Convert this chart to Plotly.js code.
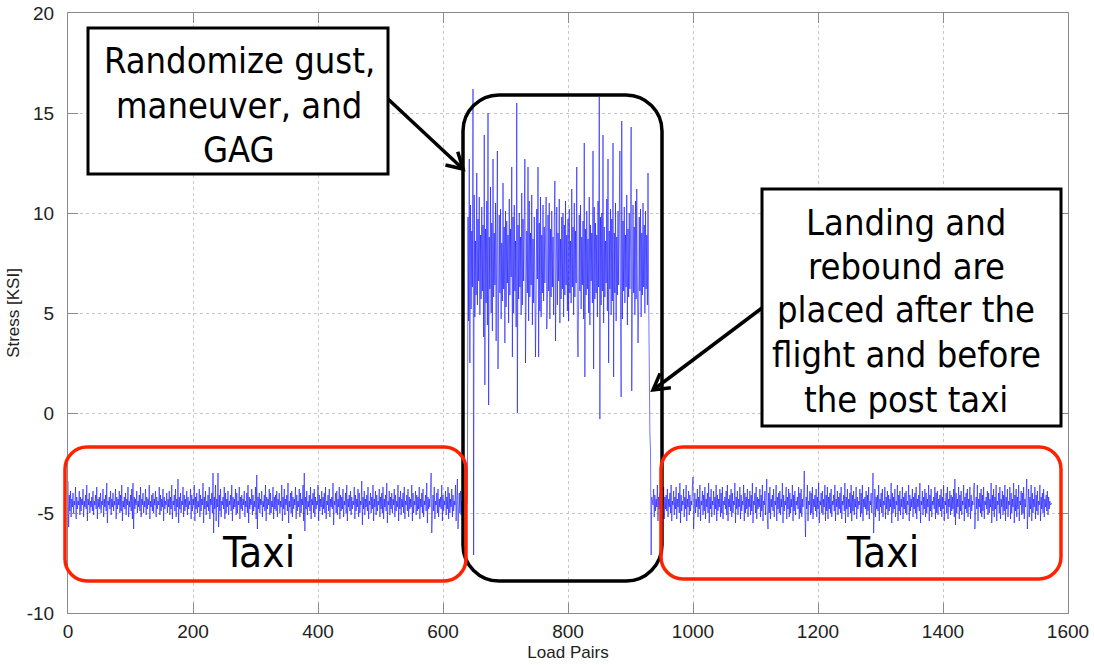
<!DOCTYPE html>
<html>
<head>
<meta charset="utf-8">
<script src="https://cdn.plot.ly/plotly-3.0.1.min.js"></script>
<style>html,body{margin:0;padding:0;background:#fff;}#chart{width:1094px;height:665px;}</style>
</head>
<body>
<div id="chart"></div>
<script>
// ---- Data (stress in KSI, one value per load pair) ----
const preTaxi = [
-3.4,-5.7,-4.1,-4.9,-3.9,-5.2,-4.3,-4.7,-4.0,-5.0,-4.4,-4.6,-3.7,-5.3,-4.2,-4.8,-4.4,-4.6,-3.9,-5.1,
-4.2,-4.9,-4.3,-4.6,-3.8,-5.2,-4.4,-4.7,-4.1,-4.8,-3.6,-5.4,-4.3,-4.6,-4.0,-5.0,-4.4,-4.7,-4.2,-4.9,
-3.9,-5.1,-4.4,-4.6,-4.1,-4.8,-3.7,-5.3,-4.3,-4.7,-4.2,-4.8,-4.0,-5.0,-4.4,-4.6,-3.8,-5.2,-4.3,-4.7,
-4.1,-4.9,-3.5,-5.5,-4.4,-4.6,-4.2,-4.8,-3.9,-5.1,-4.3,-4.7,-4.0,-4.9,-4.4,-4.6,-3.8,-5.3,-4.2,-4.8,
-4.3,-4.6,-3.9,-5.0,-4.1,-4.9,-3.6,-5.4,-4.4,-4.7,-4.2,-4.8,-4.0,-5.1,-4.3,-4.6,-3.7,-5.2,-4.4,-4.7,
-4.1,-4.9,-3.8,-5.3,-3.5,-5.8,-4.2,-4.8,-4.3,-4.6,-3.9,-5.0,-4.4,-4.7,-4.1,-4.9,-3.7,-5.2,-4.3,-4.6,
-4.0,-5.0,-4.4,-4.7,-3.8,-5.1,-4.2,-4.8,-4.3,-4.6,-3.6,-5.3,-4.4,-4.7,-4.1,-4.9,-4.0,-5.0,-4.3,-4.6,
-3.9,-5.2,-4.2,-4.8,-4.4,-4.6,-3.7,-5.1,-4.1,-4.9,-4.3,-4.7,-3.8,-5.4,-4.2,-4.8,-4.4,-4.6,-4.0,-5.0,
-4.3,-4.7,-3.9,-5.1,-4.2,-4.8,-3.6,-5.3,-4.4,-4.6,-4.1,-4.9,-3.8,-5.2,-4.3,-4.7,-3.3,-5.5,-4.2,-4.8,
-4.0,-5.0,-4.4,-4.6,-3.7,-5.2,-4.1,-4.9,-4.3,-4.7,-3.9,-5.1,-4.2,-4.8,-4.4,-4.6,-3.8,-5.3,-4.1,-4.9,
-4.3,-4.6,-3.6,-5.4,-4.2,-4.8,-4.0,-5.0,-4.4,-4.7,-3.8,-5.2,-4.1,-4.9,-4.3,-4.6,-3.5,-5.5,-4.2,-4.8,
-3.9,-5.1,-4.4,-4.7,-4.1,-4.9,-3.7,-5.3,-4.3,-4.6,-4.0,-5.0,-3.0,-6.0,-4.2,-4.8,-3.6,-5.4,-4.3,-4.7,
-3.0,-5.7,-4.1,-4.9,-3.8,-5.2,-4.4,-4.6,-4.2,-4.8,-3.7,-5.3,-4.0,-5.0,-4.3,-4.7,-3.9,-5.1,-4.4,-4.6,
-4.1,-4.9,-3.6,-5.4,-4.2,-4.8,-4.3,-4.7,-3.8,-5.1,-4.0,-5.0,-4.4,-4.6,-3.7,-5.3,-4.2,-4.8,-4.1,-4.9,
-4.3,-4.6,-3.9,-5.2,-4.4,-4.7,-4.0,-5.0,-3.6,-5.5,-4.2,-4.8,-4.3,-4.6,-3.8,-5.1,-4.1,-4.9,-4.4,-4.7,
-3.7,-5.3,-3.1,-5.8,-4.2,-4.8,-4.0,-5.0,-4.3,-4.6,-3.9,-5.2,-4.4,-4.7,-4.1,-4.9,-3.6,-5.4,-4.2,-4.8,
-4.3,-4.6,-3.8,-5.1,-4.0,-5.0,-4.4,-4.7,-3.7,-5.3,-4.2,-4.8,-4.1,-4.9,-3.9,-5.2,-4.3,-4.6,-4.0,-5.0,
-4.4,-4.7,-3.6,-5.4,-4.2,-4.8,-3.8,-5.1,-4.3,-4.6,-4.1,-4.9,-3.5,-5.5,-4.4,-4.7,-4.0,-5.0,-3.9,-5.2,
-4.2,-4.8,-4.3,-4.6,-3.7,-5.3,-4.1,-4.9,-4.4,-4.7,-3.8,-5.2,-4.0,-5.0,-4.3,-4.6,-3.6,-5.4,-3.0,-5.9,
-4.2,-4.8,-3.9,-5.1,-4.4,-4.7,-4.1,-4.9,-3.7,-5.3,-4.3,-4.6,-4.0,-5.0,-3.8,-5.2,-4.2,-4.8,-4.4,-4.6,
-3.6,-5.4,-4.1,-4.9,-4.3,-4.7,-3.9,-5.1,-4.2,-4.8,-4.0,-5.0,-3.7,-5.3,-4.4,-4.6,-4.1,-4.9,-3.8,-5.2,
-4.3,-4.7,-4.2,-4.8,-3.5,-5.6,-4.4,-4.6,-4.0,-5.0,-3.9,-5.1,-4.3,-4.7,-3.7,-5.3,-4.1,-4.9,-4.2,-4.8,
-3.8,-5.2,-4.4,-4.6,-4.0,-5.0,-3.6,-5.4,-4.3,-4.7,-4.1,-4.9,-3.9,-5.1,-4.2,-4.8,-4.4,-4.6,-3.7,-5.3,
-4.1,-4.9,-4.3,-4.7,-3.8,-5.2,-4.0,-5.0,-4.4,-4.6,-3.4,-5.6,-4.2,-4.8,-3.9,-5.1,-4.3,-4.7,-4.1,-4.9,
-3.7,-5.3,-4.4,-4.6,-4.0,-5.0,-4.2,-4.8,-3.6,-5.4,-4.3,-4.7,-3.9,-5.1,-4.1,-4.9,-4.4,-4.6,-3.8,-5.2,
-4.2,-4.8,-4.0,-5.0,-3.7,-5.3,-4.3,-4.7,-4.1,-4.9,-3.5,-5.5,-4.4,-4.6,-3.9,-5.1,-4.2,-4.8,-4.0,-5.0,
-4.3,-4.6,-3.8,-5.2,-4.1,-4.9,-4.4,-4.7,-3.6,-5.4,-4.2,-4.8,-3.9,-5.1,-4.3,-4.7,-4.0,-5.0,-3.7,-5.3,
-4.4,-4.6,-4.1,-4.9,-3.8,-5.2,-4.2,-4.8,-4.3,-4.7,-3.6,-5.4,-4.0,-5.0,-4.4,-4.6,-3.9,-5.1,-4.1,-4.9,
-4.2,-4.8,-3.7,-5.3,-4.3,-4.7,-4.0,-5.0,-3.8,-5.2,-4.4,-4.6,-4.1,-4.9,-3.5,-5.5,-4.2,-4.8,-4.3,-4.7,
-3.9,-3.0,-6.0,-4.8,-4.1,-4.9,-3.7,-5.3,-4.4,-4.6,-4.0,-5.0,-3.8,-5.2,-4.3,-4.7,-4.2,-4.8,-3.6,-5.4,
-4.1,-4.9,-4.4,-4.6,-3.9,-5.1,-4.2,-4.8,-3.7,-5.3,-4.0,-5.0,-4.3,-4.7,-3.8,-5.2,-4.1,-4.9,-4.4,-4.6,
-3.6,-5.4,-4.2,-3.3,-5.8,-4.8,-4.0,-5.0,-3.9,-5.1,-4.4,-4.6,-4.3,-4.7,-4.5,-4.5,-4.4,-4.6,-4.5,-4.5
];
const flight = [
9.8,4.6,12.7,2.5,10.4,5.2,9.1,6.3,16.2,-7.1,10.9,4.8,8.6,5.9,12.0,5.4,9.7,6.6,10.8,4.9,
8.9,5.7,10.3,6.1,9.4,3.8,13.9,1.4,9.2,5.5,10.6,4.4,15.0,0.4,8.8,6.2,11.3,5.0,9.5,4.1,
12.7,5.8,9.0,6.4,10.5,3.6,8.7,13.1,2.2,5.1,9.9,6.0,10.2,4.7,8.5,5.6,11.5,6.2,9.3,3.5,
10.1,5.3,9.6,6.5,8.9,4.5,10.7,5.9,9.2,6.8,12.3,2.8,9.8,5.0,10.4,6.1,8.6,4.3,15.5,0.0,
9.4,5.7,10.0,6.3,8.8,4.9,11.0,5.4,9.7,6.6,10.3,12.7,2.5,5.2,9.1,6.0,12.3,4.6,10.6,5.8,
9.0,6.4,10.9,4.4,8.7,5.5,9.8,6.2,2.8,5.9,10.2,6.7,12.3,2.8,9.5,5.1,10.8,4.8,8.9,6.0,
10.4,5.6,9.3,6.5,8.6,10.8,4.2,5.3,9.9,6.1,10.5,4.7,9.2,5.8,10.1,6.3,8.8,4.9,9.6,11.6,
3.6,6.0,10.3,5.4,9.0,6.6,10.7,4.5,8.7,5.7,9.8,6.2,10.0,4.8,9.4,5.9,10.6,6.4,8.9,5.1,
9.7,4.6,10.2,6.0,8.6,5.5,11.2,6.3,9.3,4.9,10.5,5.8,9.1,6.5,12.3,4.2,2.8,5.6,9.9,6.1,
10.4,5.2,8.8,6.4,9.6,4.7,13.5,1.8,9.2,5.9,10.1,6.2,8.7,5.0,10.8,4.4,9.4,6.6,9.0,5.5,
13.1,2.2,10.3,5.7,9.5,6.0,8.9,4.8,10.6,6.3,15.8,-0.3,9.8,5.4,10.0,6.1,13.9,4.5,9.3,5.8,
8.6,6.5,10.7,5.1,12.7,2.5,9.1,6.2,10.2,4.9,9.7,5.6,13.5,1.8,9.0,6.0,10.5,4.6,8.8,5.9,
10.1,6.4,9.4,13.1,5.3,0.8,14.6,4.7,9.6,6.1,10.3,5.5,8.9,6.3,10.9,4.4,9.2,5.8,10.0,6.2,
8.7,14.3,1.1,5.6,10.4,6.0,9.3,4.9,10.6,5.7,11.2,6.4,3.5,5.2,9.8,6.1,10.2,4.8,9.0,5.9,
10.5,6.3,9.4,5.0,10.1,6.2,8.9,5.4,12.0,6.0
];
const landing = [1.2,-1.0,-1.9,-7.1,-4.2];
const postTaxi = [
-4.4,-4.6,-3.8,-5.2,-4.1,-4.9,-4.3,-4.7,-3.6,-5.4,-4.2,-4.8,-4.0,-5.0,-3.9,-5.1,-4.4,-4.6,-3.7,-5.3,
-4.2,-4.8,-4.1,-4.9,-3.8,-5.2,-4.3,-4.7,-4.0,-5.0,-3.6,-5.4,-4.4,-4.6,-3.9,-5.1,-4.2,-4.8,-3.7,-5.3,
-4.3,-4.7,-4.0,-5.0,-3.5,-5.5,-4.1,-4.9,-4.4,-4.6,-3.8,-5.2,-4.2,-4.8,-3.6,-5.4,-4.3,-4.7,-3.9,-5.1,
-4.1,-4.9,-4.4,-4.6,-3.7,-3.2,-5.8,-4.8,-4.0,-5.0,-4.3,-4.7,-3.8,-5.2,-4.2,-4.8,-3.6,-5.4,-4.4,-4.6,
-3.9,-5.1,-4.1,-4.9,-3.7,-5.3,-4.3,-4.7,-4.0,-5.0,-3.5,-5.5,-4.2,-4.8,-3.8,-5.2,-4.4,-4.6,-3.9,-5.1,
-4.2,-4.8,-3.6,-5.4,-4.1,-4.9,-4.3,-4.7,-3.8,-5.2,-4.0,-5.0,-3.7,-5.3,-4.4,-4.6,-4.2,-4.8,-3.9,-5.1,
-3.6,-5.4,-4.3,-4.7,-4.1,-4.9,-3.8,-5.2,-4.0,-5.0,-4.4,-4.6,-3.5,-5.5,-4.2,-4.8,-3.9,-5.1,-4.3,-4.7,
-3.7,-5.3,-4.1,-4.9,-4.4,-4.6,-3.6,-5.4,-4.0,-5.0,-4.2,-4.8,-3.8,-5.2,-4.3,-4.7,-3.9,-5.1,-4.1,-4.9,
-3.5,-5.5,-4.4,-4.6,-4.0,-5.0,-3.7,-5.3,-4.2,-4.8,-4.3,-4.7,-3.8,-5.2,-4.1,-4.9,-3.6,-5.4,-4.4,-4.6,
-3.9,-5.1,-4.2,-3.3,-5.3,-5.8,-4.0,-5.0,-3.7,-5.3,-4.3,-4.7,-4.1,-4.9,-3.8,-5.2,-4.4,-4.6,-3.6,-5.4,
-4.2,-4.8,-4.0,-5.0,-3.9,-5.1,-4.3,-4.7,-3.5,-5.5,-4.1,-4.9,-4.4,-4.6,-3.7,-5.3,-4.2,-4.8,-3.8,-5.2,
-4.0,-5.0,-4.3,-4.7,-3.6,-5.4,-4.1,-4.9,-3.9,-5.1,-4.4,-4.6,-4.2,-4.8,-3.7,-5.3,-4.0,-5.0,-3.8,-5.2,
-4.3,-4.7,-4.1,-2.9,-4.9,-6.2,-4.2,-4.8,-3.6,-5.4,-4.4,-4.6,-3.9,-5.1,-4.0,-5.0,-3.7,-5.3,-4.3,-4.7,
-4.1,-4.9,-3.8,-5.2,-4.2,-4.8,-3.5,-5.5,-4.4,-4.6,-4.0,-5.0,-3.9,-5.1,-4.3,-4.7,-3.6,-5.4,-4.1,-4.9,
-3.7,-5.3,-4.2,-4.8,-4.0,-5.0,-3.8,-5.2,-4.4,-4.6,-4.1,-4.9,-3.6,-5.4,-4.3,-4.7,-3.9,-5.1,-4.2,-4.8,
-4.0,-5.0,-3.7,-5.3,-4.4,-4.6,-4.1,-4.9,-3.5,-5.5,-4.2,-4.8,-3.8,-5.2,-4.3,-4.7,-4.0,-5.0,-3.6,-5.4,
-4.1,-4.9,-3.9,-5.1,-4.3,-4.7,-3.7,-5.3,-4.2,-4.8,-4.4,-4.6,-3.8,-5.2,-4.0,-5.0,-3.6,-5.4,-4.3,-4.7,
-4.2,-4.8,-3.9,-5.1,-4.1,-4.9,-3.7,-5.3,-4.4,-4.6,-4.0,-5.0,-4.3,-3.0,-6.0,-4.8,-3.8,-5.2,-4.2,-4.8,
-4.1,-4.9,-3.6,-5.4,-4.3,-4.7,-4.0,-5.0,-3.8,-5.2,-4.4,-4.6,-3.7,-5.3,-4.2,-4.8,-3.9,-5.1,-4.1,-4.9,
-4.3,-4.7,-3.5,-5.5,-4.0,-5.0,-4.2,-4.8,-3.8,-5.2,-4.4,-4.6,-3.6,-5.4,-4.1,-4.9,-3.9,-5.1,-4.3,-4.7,
-3.7,-5.3,-4.2,-4.8,-4.0,-5.0,-3.9,-5.1,-4.4,-4.6,-3.6,-5.4,-4.1,-4.9,-4.3,-4.7,-3.8,-5.2,-4.2,-4.8,
-4.0,-5.0,-3.7,-5.3,-4.3,-4.7,-4.1,-4.9,-3.5,-5.5,-4.4,-4.6,-3.9,-5.1,-4.2,-4.8,-3.8,-5.2,-4.0,-5.0,
-4.3,-4.7,-3.6,-5.4,-4.1,-4.9,-3.8,-5.2,-4.4,-4.6,-4.2,-4.8,-3.7,-5.3,-4.0,-5.0,-3.9,-5.1,-4.3,-4.7,
-4.1,-4.9,-3.8,-5.2,-4.2,-4.8,-3.6,-5.4,-4.4,-4.6,-4.0,-5.0,-3.7,-5.3,-4.3,-4.7,-3.9,-5.1,-4.1,-4.9,
-4.2,-4.8,-3.8,-5.2,-3.3,-5.6,-4.0,-5.0,-4.3,-4.7,-3.7,-5.3,-4.1,-4.9,-3.9,-5.1,-4.4,-4.6,-3.6,-5.4,
-4.2,-4.8,-4.0,-5.0,-3.8,-5.2,-4.3,-4.7,-3.7,-5.3,-4.1,-4.9,-4.4,-4.6,-3.9,-3.5,-5.8,-5.0,-4.2,-4.8,
-3.6,-5.4,-4.3,-4.7,-4.0,-5.0,-3.8,-5.2,-4.1,-4.9,-3.7,-5.3,-4.4,-4.6,-4.2,-4.8,-3.9,-5.1,-4.0,-5.0,
-4.3,-4.7,-3.5,-5.5,-4.1,-4.9,-3.8,-5.2,-4.2,-4.8,-3.6,-5.4,-4.4,-4.6,-4.0,-5.0,-3.7,-5.3,-4.3,-4.7,
-3.9,-5.1,-4.1,-4.9,-3.6,-5.4,-4.2,-4.8,-3.8,-5.2,-4.4,-4.6,-3.7,-5.3,-4.0,-5.0,-4.3,-4.7,-3.5,-5.5,
-4.1,-4.9,-3.8,-5.2,-4.2,-4.8,-3.6,-5.4,-4.4,-4.6,-3.9,-5.1,-4.0,-5.0,-3.7,-5.3,-4.3,-4.7,-4.1,-3.3,
-5.8,-4.8,-3.8,-5.2,-4.2,-4.8,-3.6,-5.4,-4.0,-5.0,-4.3,-4.7,-3.7,-5.3,-4.1,-4.9,-3.9,-5.1,-4.4,-4.6,
-3.6,-5.4,-4.2,-4.8,-4.0,-5.0,-3.8,-5.2,-4.3,-4.7,-4.1,-4.9,-3.9,-5.1,-4.2,-4.8,-4.4,-4.6,-4.5,-4.5
];
const xTicks = [0,200,400,600,800,1000,1200,1400,1600];
const yTicks = [-10,-5,0,5,10,15,20];
const boxText1 = ["Randomize gust,", "maneuver, and", "GAG"];
const boxText2 = ["Landing and", "rebound are", "placed after the", "flight and before", "the post taxi"];
const taxiLabel = "Taxi";

const stress = preTaxi.concat(flight, landing, postTaxi);

// ---- layout helpers (pixel -> paper) ----
const W = 1094, H = 665, M = {l:68, r:26, t:13, b:52};
const PW = W - M.l - M.r, PH = H - M.t - M.b;
const px = v => (v - M.l) / PW;
const py = v => (H - M.b - v) / PH;

function roundRect(x0, y0, x1, y1, r) {
  const rx = r / PW, ry = r / PH;
  const X0 = px(x0), X1 = px(x1), Y0 = py(y1), Y1 = py(y0);
  const k = 0.45;
  return `M ${X0+rx},${Y1} L ${X1-rx},${Y1} C ${X1-rx*k},${Y1} ${X1},${Y1-ry*k} ${X1},${Y1-ry} ` +
         `L ${X1},${Y0+ry} C ${X1},${Y0+ry*k} ${X1-rx*k},${Y0} ${X1-rx},${Y0} ` +
         `L ${X0+rx},${Y0} C ${X0+rx*k},${Y0} ${X0},${Y0+ry*k} ${X0},${Y0+ry} ` +
         `L ${X0},${Y1-ry} C ${X0},${Y1-ry*k} ${X0+rx*k},${Y1} ${X0+rx},${Y1} Z`;
}
function arrowShapes(x0, y0, x1, y1) {
  const dx = x1 - x0, dy = y1 - y0, len = Math.hypot(dx, dy);
  const ux = dx / len, uy = dy / len, L = 18, a = Math.PI / 6;
  const w1 = [x1 - L*(ux*Math.cos(a) - uy*Math.sin(a)), y1 - L*(ux*Math.sin(a) + uy*Math.cos(a))];
  const w2 = [x1 - L*(ux*Math.cos(a) + uy*Math.sin(a)), y1 - L*(-ux*Math.sin(a) + uy*Math.cos(a))];
  const ln = {color:'#000', width:3.5};
  return [
    {type:'path', xref:'paper', yref:'paper', path:`M ${px(x0)},${py(y0)} L ${px(x1)},${py(y1)}`, line:ln},
    {type:'path', xref:'paper', yref:'paper', path:`M ${px(w1[0])},${py(w1[1])} L ${px(x1)},${py(y1)} L ${px(w2[0])},${py(w2[1])}`, line:ln}
  ];
}

const shapes = [
  {type:'rect', xref:'paper', yref:'paper', x0:px(88), x1:px(388), y0:py(174), y1:py(28),
   line:{color:'#000', width:3}, fillcolor:'#fff'},
  {type:'rect', xref:'paper', yref:'paper', x0:px(762), x1:px(1061), y0:py(426), y1:py(189),
   line:{color:'#000', width:3}, fillcolor:'#fff'},
  {type:'path', xref:'paper', yref:'paper', path:roundRect(463, 95, 662, 581, 36), line:{color:'#000', width:3.5}},
  {type:'path', xref:'paper', yref:'paper', path:roundRect(65, 447, 466, 581, 22), line:{color:'#ff2200', width:3.5}},
  {type:'path', xref:'paper', yref:'paper', path:roundRect(661, 447, 1061, 579, 22), line:{color:'#ff2200', width:3.5}},
  ...arrowShapes(388, 99, 463, 169),
  ...arrowShapes(762, 308, 653, 390)
];

const boxFont = {family:'DejaVu Sans Condensed, DejaVu Sans, sans-serif', size:36, color:'#000'};
const annotations = [];
const c1 = [61, 105, 149];
boxText1.forEach((t, i) => annotations.push({xref:'paper', yref:'paper', x:px(239), y:py(c1[i]),
  text:t, showarrow:false, xanchor:'center', yanchor:'middle', font:boxFont}));
const c2 = [222, 266, 309, 354, 399];
boxText2.forEach((t, i) => annotations.push({xref:'paper', yref:'paper', x:px(906), y:py(c2[i]),
  text:t, showarrow:false, xanchor:'center', yanchor:'middle', font:boxFont}));
const taxiFont = {family:'DejaVu Sans Condensed, DejaVu Sans, sans-serif', size:42, color:'#000'};
annotations.push({xref:'paper', yref:'paper', x:px(258), y:py(552), text:taxiLabel, showarrow:false,
  xanchor:'center', yanchor:'middle', font:taxiFont});
annotations.push({xref:'paper', yref:'paper', x:px(882), y:py(552), text:taxiLabel, showarrow:false,
  xanchor:'center', yanchor:'middle', font:taxiFont});

const axisCommon = {
  showgrid:true, gridcolor:'#c8c8c8', griddash:'dot', gridwidth:1,
  zeroline:false, showline:true, linecolor:'#8a8a8a', linewidth:1, mirror:'ticks',
  ticks:'inside', ticklen:10, tickcolor:'#8a8a8a', tickwidth:1,
  tickfont:{family:'Liberation Sans, Arial, sans-serif', size:19, color:'#222'}
};

const layout = {
  width:W, height:H, margin:M, paper_bgcolor:'#fff', plot_bgcolor:'#fff', showlegend:false,
  xaxis:Object.assign({}, axisCommon, {range:[0,1600], tickmode:'array', tickvals:xTicks,
    ticktext:xTicks.map(String), ticklabelstandoff:1,
    title:{text:'Load Pairs', standoff:5, font:{family:'Liberation Sans, Arial, sans-serif', size:17, color:'#222'}}}),
  yaxis:Object.assign({}, axisCommon, {range:[-10,20], tickmode:'array', tickvals:yTicks,
    ticktext:yTicks.map(String), ticklabelstandoff:9,
    title:{text:'Stress [KSI]', standoff:2, font:{family:'Liberation Sans, Arial, sans-serif', size:17, color:'#222'}}}),
  shapes:shapes, annotations:annotations
};

Plotly.newPlot('chart', [{type:'scatter', mode:'lines', x0:0, dx:1, y:stress,
  line:{color:'#0000ff', width:0.55}, hoverinfo:'skip'}], layout, {staticPlot:true, displayModeBar:false});
</script>
</body>
</html>
